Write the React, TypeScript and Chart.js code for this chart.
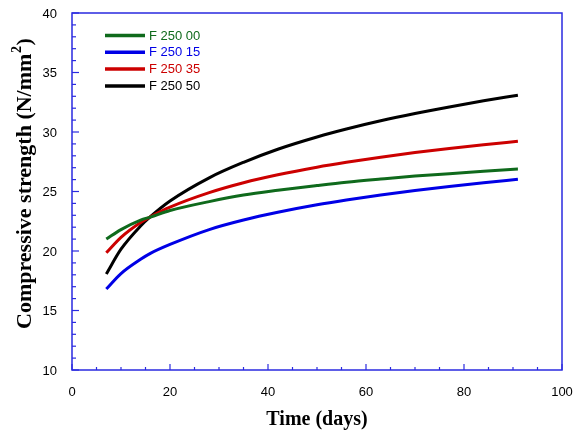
import React, { useEffect, useRef } from "react";
import { Chart, registerables } from "chart.js";

Chart.register(...registerables);

// ---- data ----
const days = [7, 10, 14, 16, 20, 28, 35, 42, 50, 56, 63, 70, 77, 84, 91];
const f25000 = [21.0, 21.8, 22.6, 22.85, 23.4, 24.15, 24.7, 25.1, 25.5, 25.78, 26.05, 26.3, 26.5, 26.7, 26.9];
const f25015 = [16.8, 18.1, 19.3, 19.8, 20.55, 21.8, 22.6, 23.25, 23.88, 24.28, 24.7, 25.08, 25.42, 25.73, 26.02];
const f25035 = [19.85, 21.15, 22.4, 22.87, 23.68, 24.9, 25.73, 26.4, 27.04, 27.45, 27.88, 28.27, 28.62, 28.93, 29.22];
const f25050 = [18.07, 20.15, 22.1, 22.88, 24.2, 26.15, 27.45, 28.55, 29.58, 30.25, 30.94, 31.55, 32.1, 32.62, 33.09];

const seriesNames = ["F 250 00", "F 250 15", "F 250 35", "F 250 50"];
const seriesColors = ["#0f6a1c", "#0000e6", "#cc0000", "#000000"];

const xTickValues = [0, 20, 40, 60, 80, 100];
const yTickValues = [10, 15, 20, 25, 30, 35, 40];

const xTitle = "Time (days)";
const yTitleMain = "Compressive strength (N/mm";
const yTitleSup = "2";
const yTitleEnd = ")";

const AXIS_COLOR = "#2a2ae0";
const SERIF = "'Liberation Serif', 'Times New Roman', serif";

const framePlugin = {
  id: "frameTicks",
  afterDraw(chart: any) {
    const { ctx, chartArea: a, scales } = chart;
    ctx.save();
    ctx.strokeStyle = AXIS_COLOR;
    ctx.lineWidth = 1.5;
    ctx.strokeRect(a.left, a.top, a.right - a.left, a.bottom - a.top);
    ctx.lineWidth = 1.2;
    const xs = scales.x;
    for (let v = xs.min; v <= xs.max + 1e-9; v += 5) {
      const px = xs.getPixelForValue(v);
      const len = v % 20 === 0 ? 6 : 3;
      ctx.beginPath();
      ctx.moveTo(px, a.bottom);
      ctx.lineTo(px, a.bottom - len);
      ctx.stroke();
    }
    const ys = scales.y;
    for (let v = ys.min; v <= ys.max + 1e-9; v += 1) {
      const py = ys.getPixelForValue(v);
      const len = v % 5 === 0 ? 7 : 4;
      ctx.beginPath();
      ctx.moveTo(a.left, py);
      ctx.lineTo(a.left + len, py);
      ctx.stroke();
    }
    ctx.restore();
  },
};

const yTitlePlugin = {
  id: "yTitleSup",
  afterDraw(chart: any) {
    const { ctx } = chart;
    ctx.save();
    ctx.translate(31, 329);
    ctx.rotate(-Math.PI / 2);
    ctx.fillStyle = "#000";
    ctx.textBaseline = "alphabetic";
    ctx.textAlign = "left";
    ctx.font = `bold 22px ${SERIF}`;
    ctx.fillText(yTitleMain, 0, 0);
    let x = ctx.measureText(yTitleMain).width;
    ctx.font = `bold 14px ${SERIF}`;
    ctx.fillText(yTitleSup, x + 0.5, -10);
    x += ctx.measureText(yTitleSup).width + 1;
    ctx.font = `bold 22px ${SERIF}`;
    ctx.fillText(yTitleEnd, x, 0);
    ctx.restore();
  },
};

const legendPlugin = {
  id: "insideLegend",
  afterDraw(chart: any) {
    const { ctx, chartArea: a } = chart;
    ctx.save();
    ctx.font = "13px 'Liberation Sans', Arial, sans-serif";
    ctx.textBaseline = "middle";
    ctx.textAlign = "left";
    chart.data.datasets.forEach((ds: any, i: number) => {
      const y = a.top + 22.5 + i * 16.8;
      const x0 = a.left + 33;
      ctx.strokeStyle = ds.borderColor;
      ctx.lineWidth = 3.5;
      ctx.beginPath();
      ctx.moveTo(x0, y);
      ctx.lineTo(x0 + 40, y);
      ctx.stroke();
      ctx.fillStyle = ds.borderColor;
      ctx.fillText(ds.label, x0 + 44, y + 0.5);
    });
    ctx.restore();
  },
};

export default function App() {
  const ref = useRef<HTMLCanvasElement | null>(null);

  useEffect(() => {
    if (!ref.current) return;
    const seriesValues = [f25000, f25015, f25035, f25050];
    const chart = new Chart(ref.current, {
      type: "line",
      data: {
        datasets: seriesValues.map((vals, i) => ({
          label: seriesNames[i],
          data: days.map((d, j) => ({ x: d, y: vals[j] })),
          borderColor: seriesColors[i],
          backgroundColor: seriesColors[i],
          borderWidth: 3,
          pointRadius: 0,
          cubicInterpolationMode: "monotone" as const,
          fill: false,
        })),
      },
      options: {
        responsive: false,
        animation: false,
        events: [],
        layout: { padding: { top: 13, right: 12, left: 0, bottom: 0 } },
        plugins: {
          legend: { display: false },
          tooltip: { enabled: false },
        },
        scales: {
          x: {
            type: "linear",
            min: 0,
            max: 100,
            grid: { display: false, drawTicks: false },
            border: { display: false },
            afterBuildTicks: (s: any) => {
              s.ticks = xTickValues.map((v) => ({ value: v }));
            },
            afterFit: (s: any) => {
              s.height = 65;
              s.paddingLeft = 0;
              s.paddingRight = 0;
            },
            ticks: {
              color: "#000",
              padding: 15,
              maxRotation: 0,
              font: { family: "'Liberation Sans', Arial, sans-serif", size: 13 },
            },
            title: {
              display: true,
              text: xTitle,
              color: "#000",
              padding: { top: 0, bottom: 3 },
              font: { family: SERIF, size: 20, weight: "bold" },
            },
          },
          y: {
            type: "linear",
            min: 10,
            max: 40,
            grid: { display: false, drawTicks: false },
            border: { display: false },
            afterBuildTicks: (s: any) => {
              s.ticks = yTickValues.map((v) => ({ value: v }));
            },
            afterFit: (s: any) => {
              s.width = 72;
              s.paddingTop = 0;
              s.paddingBottom = 0;
            },
            ticks: {
              color: "#000",
              padding: 15,
              labelOffset: 1,
              font: { family: "'Liberation Sans', Arial, sans-serif", size: 13 },
            },
            title: { display: false },
          },
        },
      },
      plugins: [framePlugin, legendPlugin, yTitlePlugin],
    });
    return () => chart.destroy();
  }, []);

  return (
    <div style={{ position: "fixed", left: 0, top: 0, width: 574, height: 435, background: "#fff" }}>
      <canvas ref={ref} width={574} height={435} style={{ display: "block" }} />
    </div>
  );
}
